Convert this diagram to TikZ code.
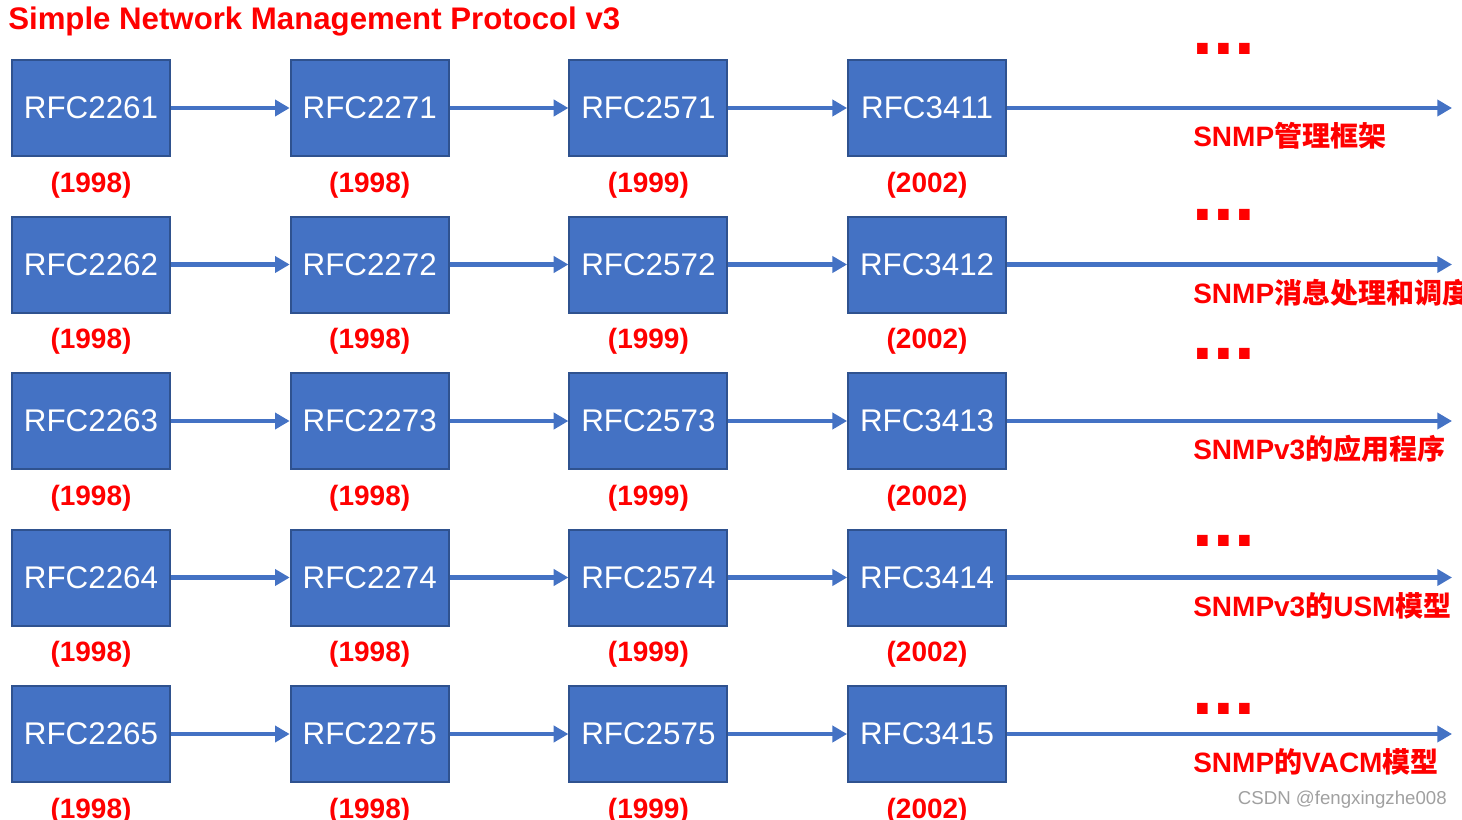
\documentclass[tikz,border=0pt]{standalone}
\usepackage{fontspec}
\setmainfont{Liberation Sans}
\newfontfamily\cjk{Noto Sans CJK SC}
\usetikzlibrary{arrows.meta}
\definecolor{bleuBoite}{RGB}{68,114,196}
\definecolor{bordBoite}{RGB}{47,82,143}
\definecolor{rougeTexte}{RGB}{255,0,0}
\definecolor{grisMarque}{RGB}{160,160,160}

\begin{document}
\begin{tikzpicture}[x=0.75pt,y=-0.75pt]
	% Styles (boites, annees, liens, etiquettes)
	\tikzstyle{rfc}=[fill=bleuBoite,draw=bordBoite,line width=1.5pt,minimum width=118.5pt,minimum height=72pt,inner sep=0pt,text=white,font=\fontsize{23.5}{27}\selectfont]
	\tikzstyle{annee}=[text=rougeTexte,inner sep=0pt,font=\fontsize{21}{25}\selectfont\bfseries]
	\tikzstyle{lien}=[-{Triangle[length=11pt,width=12pt]},line width=3.5pt,draw=bleuBoite]
	\tikzstyle{groupe}=[anchor=west,inner sep=0pt,text=rougeTexte,font=\fontsize{21}{25}\selectfont\bfseries]
	\tikzstyle{suite}=[inner sep=0pt,text=rougeTexte,font=\fontsize{56}{60}\selectfont\bfseries]
	% Dimensions (en pixels)
	\def\DistanceInterNiveaux{156.5}
	\def\DistanceInterFeuilles{278.7}
	\def\PremierNiveau{108}
	\def\PremiereFeuille{91}
	\def\DecalageAnnee{77}
	\useasboundingbox (0,0) rectangle (1462,820);
	% Titre
	\node[anchor=base west,inner sep=0pt,text=rougeTexte,font=\fontsize{23.4}{28}\selectfont\bfseries] (titre) at (8,30) {Simple Network Management Protocol v3};
	% Lignes : boites, annees, liens
	\foreach \i/\ysuite/\texte in {1/49/{SNMP{\cjk 管理框架}},2/215/{SNMP{\cjk 消息处理和调度}},3/354/{SNMPv3{\cjk 的应用程序}},4/541/{SNMPv3{\cjk 的}USM{\cjk 模型}},5/709/{SNMP{\cjk 的}VACM{\cjk 模型}}}{
		\pgfmathsetmacro{\y}{\PremierNiveau+(\i-1)*\DistanceInterNiveaux}
		\node[rfc] (A\i) at ({\PremiereFeuille+(0)*\DistanceInterFeuilles},{\y}) {RFC226\i};
		\node[rfc] (B\i) at ({\PremiereFeuille+(1)*\DistanceInterFeuilles},{\y}) {RFC227\i};
		\node[rfc] (C\i) at ({\PremiereFeuille+(2)*\DistanceInterFeuilles},{\y}) {RFC257\i};
		\node[rfc] (D\i) at ({\PremiereFeuille+(3)*\DistanceInterFeuilles},{\y}) {RFC341\i};
		\node[annee] (anA\i) at ({\PremiereFeuille+(0)*\DistanceInterFeuilles},{\y+\DecalageAnnee}) {(1998)};
		\node[annee] (anB\i) at ({\PremiereFeuille+(1)*\DistanceInterFeuilles},{\y+\DecalageAnnee}) {(1998)};
		\node[annee] (anC\i) at ({\PremiereFeuille+(2)*\DistanceInterFeuilles},{\y+\DecalageAnnee}) {(1999)};
		\node[annee] (anD\i) at ({\PremiereFeuille+(3)*\DistanceInterFeuilles},{\y+\DecalageAnnee}) {(2002)};
		\coordinate (fin\i) at (1452,{\y});
		\node[suite] (pts\i) at (1224,\ysuite) {...};
		\node[groupe] (lab\i) at (1193,{\y+28}) {\texte};
		\draw[lien] (A\i) -- (B\i);
		\draw[lien] (B\i) -- (C\i);
		\draw[lien] (C\i) -- (D\i);
		\draw[lien] (D\i) -- (fin\i);
	}
	% Marque
	\node[anchor=east,inner sep=0pt,text=grisMarque,font=\fontsize{14}{16}\selectfont] (marque) at (1447,800) {CSDN @fengxingzhe008};
\end{tikzpicture}
\end{document}
